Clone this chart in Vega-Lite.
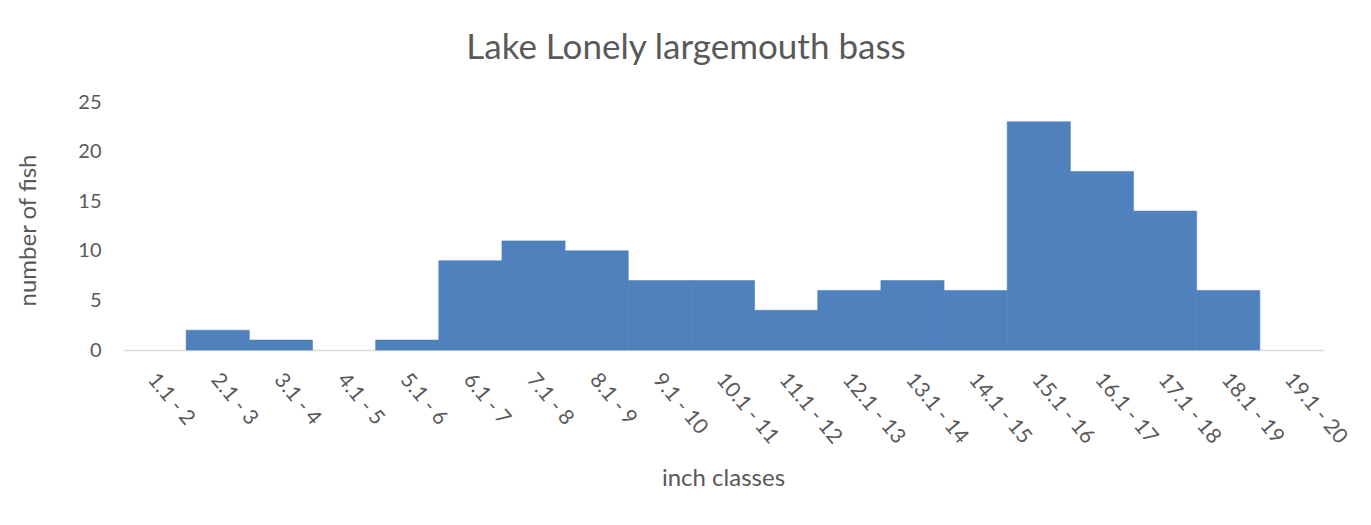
{
  "$schema": "https://vega.github.io/schema/vega-lite/v6.json",
  "autosize": "none",
  "width": 1200,
  "height": 248,
  "padding": {"left": 123, "top": 102, "right": 48, "bottom": 175},
  "background": "white",
  "title": {
    "text": "Lake Lonely largemouth bass",
    "anchor": "middle",
    "frame": "group",
    "dx": -37,
    "offset": 26,
    "font": "Lato",
    "fontSize": 35,
    "fontWeight": "normal",
    "color": "#595959"
  },
  "data": {
    "values": [
      {"cls": "1.1 - 2", "n": 0},
      {"cls": "2.1 - 3", "n": 2},
      {"cls": "3.1 - 4", "n": 1},
      {"cls": "4.1 - 5", "n": 0},
      {"cls": "5.1 - 6", "n": 1},
      {"cls": "6.1 - 7", "n": 9},
      {"cls": "7.1 - 8", "n": 11},
      {"cls": "8.1 - 9", "n": 10},
      {"cls": "9.1 - 10", "n": 7},
      {"cls": "10.1 - 11", "n": 7},
      {"cls": "11.1 - 12", "n": 4},
      {"cls": "12.1 - 13", "n": 6},
      {"cls": "13.1 - 14", "n": 7},
      {"cls": "14.1 - 15", "n": 6},
      {"cls": "15.1 - 16", "n": 23},
      {"cls": "16.1 - 17", "n": 18},
      {"cls": "17.1 - 18", "n": 14},
      {"cls": "18.1 - 19", "n": 6},
      {"cls": "19.1 - 20", "n": 0}
    ]
  },
  "mark": {"type": "bar", "color": "#4f81bd", "stroke": "#4f81bd", "strokeWidth": 0.6},
  "encoding": {
    "strokeOpacity": {"condition": {"test": "datum.n > 0", "value": 1}, "value": 0},
    "x": {
      "field": "cls",
      "type": "ordinal",
      "sort": null,
      "scale": {"paddingInner": 0, "paddingOuter": 0},
      "axis": {
        "title": "inch classes",
        "titleFont": "Lato",
        "titleFontSize": 24,
        "titleFontWeight": "normal",
        "titleColor": "#595959",
        "titleY": 128,
        "titleBaseline": "middle",
        "labelAngle": 50,
        "labelAlign": "left",
        "labelBaseline": "middle",
        "labelPadding": 26,
        "labelOffset": -3,
        "labelFont": "Lato",
        "labelFontSize": 21,
        "labelColor": "#595959",
        "ticks": false,
        "domainColor": "#d9d9d9",
        "domainWidth": 1.5,
        "grid": false
      }
    },
    "y": {
      "field": "n",
      "type": "quantitative",
      "scale": {"domain": [0, 25], "nice": false},
      "axis": {
        "title": "number of fish",
        "titleFont": "Lato",
        "titleFontSize": 24,
        "titleFontWeight": "normal",
        "titleColor": "#595959",
        "titleX": -95,
        "titleY": 128,
        "titleBaseline": "middle",
        "titleAlign": "center",
        "values": [0, 5, 10, 15, 20, 25],
        "labelFont": "Lato",
        "labelFontSize": 20,
        "labelColor": "#595959",
        "labelPadding": 22,
        "ticks": false,
        "domain": false,
        "grid": false
      }
    }
  },
  "config": {"view": {"stroke": null}}
}
